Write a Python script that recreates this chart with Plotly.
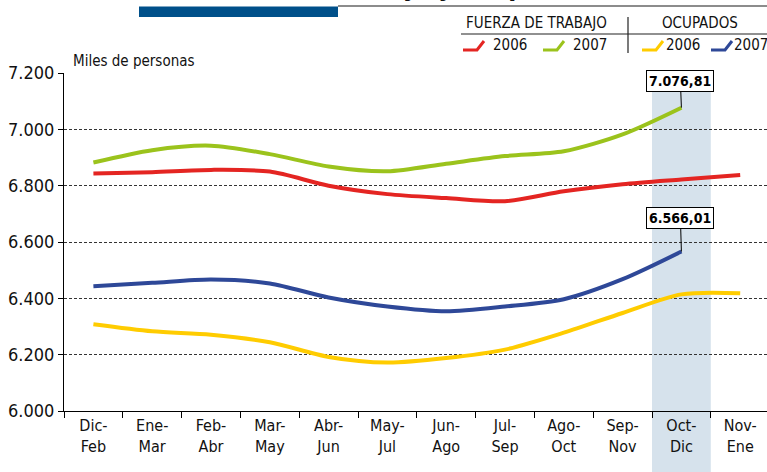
import plotly.graph_objects as go

categories = ["Dic-<br>Feb", "Ene-<br>Mar", "Feb-<br>Abr", "Mar-<br>May", "Abr-<br>Jun", "May-<br>Jul",
              "Jun-<br>Ago", "Jul-<br>Sep", "Ago-<br>Oct", "Sep-<br>Nov", "Oct-<br>Dic", "Nov-<br>Ene"]
ft_2006 = [6843, 6848, 6856, 6850, 6800, 6770, 6756, 6745, 6780, 6805, 6822, 6838]
ft_2007 = [6882, 6926, 6942, 6912, 6868, 6851, 6878, 6905, 6922, 6982, 7076.81]
oc_2006 = [6308, 6283, 6271, 6244, 6192, 6172, 6188, 6218, 6278, 6348, 6414, 6418]
oc_2007 = [6443, 6455, 6467, 6453, 6403, 6371, 6354, 6371, 6397, 6468, 6566.01]
y_ticks = [6000, 6200, 6400, 6600, 6800, 7000, 7200]
y_tick_labels = ["6.000", "6.200", "6.400", "6.600", "6.800", "7.000", "7.200"]

FONT = "Liberation Sans Narrow, DejaVu Sans Condensed, Roboto Condensed, Arial Narrow, sans-serif"
RED, GREEN, YELLOW, BLUE = "#e42522", "#9bc31c", "#ffcc00", "#2e4898"

W, H = 767, 472
ML, MR, MT, MB = 64, 0, 73, 61
PW, PH = W - ML - MR, H - MT - MB


def px(x):
    return (x - ML) / PW


def py(y):
    return (H - MB - y) / PH


cat_w = 58.8
x_range = [-0.5, -0.5 + PW / cat_w]

fig = go.Figure()
series = [("FT 2006", ft_2006, RED), ("FT 2007", ft_2007, GREEN),
          ("Ocupados 2006", oc_2006, YELLOW), ("Ocupados 2007", oc_2007, BLUE)]
for name, vals, col in series:
    fig.add_trace(go.Scatter(x=categories[:len(vals)], y=vals, mode="lines", name=name,
                             line=dict(color=col, width=4, shape="spline", smoothing=0.8),
                             showlegend=False, hoverinfo="skip"))

shapes = []
# highlighted band for Oct-Dic
b0 = ML + (10 - x_range[0] - 0.5) * cat_w
b1 = b0 + cat_w
shapes.append(dict(type="rect", xref="paper", yref="paper", x0=px(b0), x1=px(b1),
                   y0=py(H), y1=1, fillcolor="#d6e2ec", line=dict(width=0), layer="below"))
# header bar and line
shapes.append(dict(type="rect", xref="paper", yref="paper", x0=px(139), x1=px(338),
                   y0=py(17), y1=py(6.5), fillcolor="#00508a", line=dict(width=0)))
shapes.append(dict(type="line", xref="paper", yref="paper", x0=px(338), x1=px(767),
                   y0=py(6), y1=py(6), line=dict(color="#666666", width=1.5)))
# legend frame
shapes.append(dict(type="line", xref="paper", yref="paper", x0=px(461), x1=px(767),
                   y0=py(34), y1=py(34), line=dict(color="#222222", width=1.2)))
shapes.append(dict(type="line", xref="paper", yref="paper", x0=px(628), x1=px(628),
                   y0=py(17), y1=py(53), line=dict(color="#222222", width=1.2)))


def swoosh(x0, col):
    pts = [(x0, 50), (x0 + 14, 50), (x0 + 21, 41)]
    path = "M " + " L ".join(f"{px(a):.5f},{py(b):.5f}" for a, b in pts)
    return dict(type="path", xref="paper", yref="paper", path=path,
                line=dict(color=col, width=3))


for xs, col in [(463, RED), (543, GREEN), (642, YELLOW), (711, BLUE)]:
    shapes.append(swoosh(xs, col))

annotations = []


def txt(x, y, s, size, anchor="left", color="#111111", bold=False):
    annotations.append(dict(xref="paper", yref="paper", x=px(x), y=py(y), text=(f"<b>{s}</b>" if bold else s),
                            showarrow=False, xanchor=anchor, yanchor="middle",
                            font=dict(family=FONT, size=size, color=color)))


txt(536, 23, "FUERZA DE TRABAJO", 15, "center")
txt(700, 23, "OCUPADOS", 15, "center")
txt(491, 45, "2006", 15)
txt(571, 45, "2007", 15)
txt(664, 45, "2006", 15)
txt(732, 45, "2007", 15)
txt(71, 61, "Miles de personas", 15)

# clipped title fragment at top
annotations.append(dict(xref="paper", yref="paper", x=px(590), y=py(-14), text="<b>trabajo y ocupados</b>",
                        showarrow=False, xanchor="right", yanchor="middle",
                        font=dict(family=FONT, size=26, color="#111111")))

# callouts
for xi, val, label, by in [(10, 7076.81, "7.076,81", 81), (10, 6566.01, "6.566,01", 218)]:
    ypix = H - MB - (val - 6000) / 1200 * PH
    annotations.append(dict(x=categories[xi], y=val, xref="x", yref="y", text=f"<b>{label}</b>",
                            showarrow=True, arrowhead=0, arrowwidth=1, arrowcolor="#000000",
                            ax=-1, ay=by - ypix, font=dict(family=FONT, size=14, color="#000000"),
                            bgcolor="#ffffff", bordercolor="#000000", borderwidth=1, borderpad=2))

fig.update_layout(
    width=W, height=H, margin=dict(l=ML, r=MR, t=MT, b=MB),
    paper_bgcolor="#ffffff", plot_bgcolor="rgba(0,0,0,0)",
    shapes=shapes, annotations=annotations,
    xaxis=dict(type="category", range=x_range, tickson="boundaries", ticks="outside", ticklen=6,
               tickcolor="#000000", showline=True, linecolor="#000000", linewidth=1.2,
               showgrid=False, tickfont=dict(family=FONT, size=16, color="#111111"), fixedrange=True),
    yaxis=dict(range=[6000, 7200], tickvals=y_ticks, ticktext=y_tick_labels, ticks="outside", ticklen=5,
               tickcolor="#000000", showline=True, linecolor="#000000", linewidth=1.2,
               showgrid=True, gridcolor="#333333", gridwidth=1, griddash="3px,2px", zeroline=False,
               tickfont=dict(family=FONT, size=18, color="#111111"), fixedrange=True),
)

fig.write_html("out.html", config={"displayModeBar": False},
               post_script="document.body.style.margin='0';document.body.style.overflow='hidden';")
